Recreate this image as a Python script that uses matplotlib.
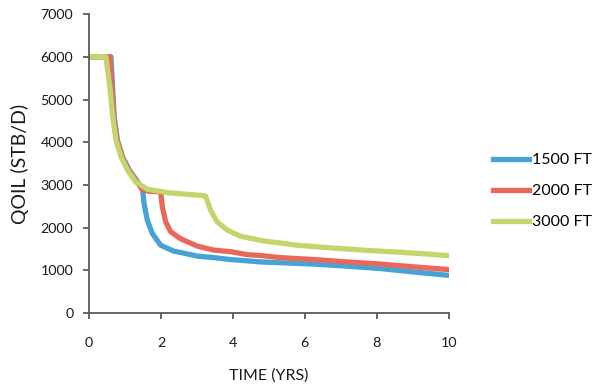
import matplotlib
matplotlib.use('Agg')
import matplotlib.pyplot as plt

# Values (time in years, oil rate in STB/D)
t_1500 = [0.0, 0.61, 0.66, 0.70, 0.79, 0.93, 1.12, 1.35, 1.49, 1.53, 1.62, 1.76,
          1.99, 2.36, 2.55, 3.01, 3.47, 3.93, 4.40, 4.76, 5.32, 6.24, 7.17, 8.09,
          9.01, 10.0]
q_1500 = [6000, 6000, 5220, 4600, 4050, 3660, 3350, 3075, 2880, 2570, 2180, 1865,
          1590, 1450, 1420, 1335, 1300, 1255, 1225, 1200, 1180, 1150, 1100, 1045,
          965, 885]

t_2000 = [0.0, 0.58, 0.64, 0.69, 0.78, 0.92, 1.10, 1.33, 1.49, 1.70, 1.99, 2.04,
          2.13, 2.27, 2.55, 3.01, 3.47, 3.93, 4.40, 4.76, 5.32, 6.24, 7.17, 8.09,
          9.01, 10.0]
q_2000 = [6000, 6000, 5220, 4600, 4050, 3660, 3350, 3075, 2880, 2850, 2840, 2490,
          2140, 1905, 1740, 1570, 1475, 1440, 1370, 1350, 1300, 1255, 1200, 1150,
          1085, 1020]

t_3000 = [0.0, 0.47, 0.59, 0.66, 0.75, 0.89, 1.07, 1.30, 1.62, 2.18, 3.19, 3.24,
          3.38, 3.56, 3.84, 4.21, 4.86, 5.78, 6.70, 7.63, 8.55, 9.47, 10.0]
q_3000 = [6000, 6000, 5220, 4600, 4050, 3660, 3350, 3070, 2900, 2820, 2750, 2740,
          2410, 2140, 1945, 1800, 1690, 1590, 1530, 1475, 1430, 1380, 1345]

series_labels = ['1500 FT', '2000 FT', '3000 FT']
series_colors = ['#47A3D6', '#E9685C', '#C3D56C']

x_ticks = [0, 2, 4, 6, 8, 10]
y_ticks = [0, 1000, 2000, 3000, 4000, 5000, 6000, 7000]

plt.rcParams['font.family'] = ['Lato', 'DejaVu Sans']

fig = plt.figure(figsize=(6, 3.9), dpi=100)
ax = fig.add_axes([0.1483, 0.197, 0.5997, 0.767])

for t, q, lab, col in zip([t_1500, t_2000, t_3000], [q_1500, q_2000, q_3000],
                          series_labels, series_colors):
    ax.plot(t, q, color=col, lw=3.8, label=lab, solid_joinstyle='round')

ax.set_xlim(0, 10)
ax.set_ylim(0, 7000)
ax.set_xticks(x_ticks)
ax.set_yticks(y_ticks)

for side in ['top', 'right']:
    ax.spines[side].set_visible(False)
for side in ['left', 'bottom']:
    ax.spines[side].set_color('#5a5a5a')
    ax.spines[side].set_linewidth(1.3)

ax.tick_params(axis='both', direction='out', length=4.3, width=1.3,
               color='#5a5a5a', labelsize=10.3, labelcolor='#1a1a1a')
ax.tick_params(axis='x', pad=13)
ax.tick_params(axis='y', pad=7)

ax.set_xlabel('TIME (YRS)', fontsize=11.5, color='#1a1a1a', labelpad=14)
ax.set_ylabel('QOIL (STB/D)', fontsize=14, color='#1a1a1a', labelpad=8)

ax.legend(loc='center left', bbox_to_anchor=(0.822, 0.51),
          bbox_transform=fig.transFigure, frameon=False, fontsize=11.5,
          handlelength=2.25, handletextpad=0.2, labelspacing=1.05,
          borderpad=0, borderaxespad=0)

fig.savefig('out.png', dpi=100)
